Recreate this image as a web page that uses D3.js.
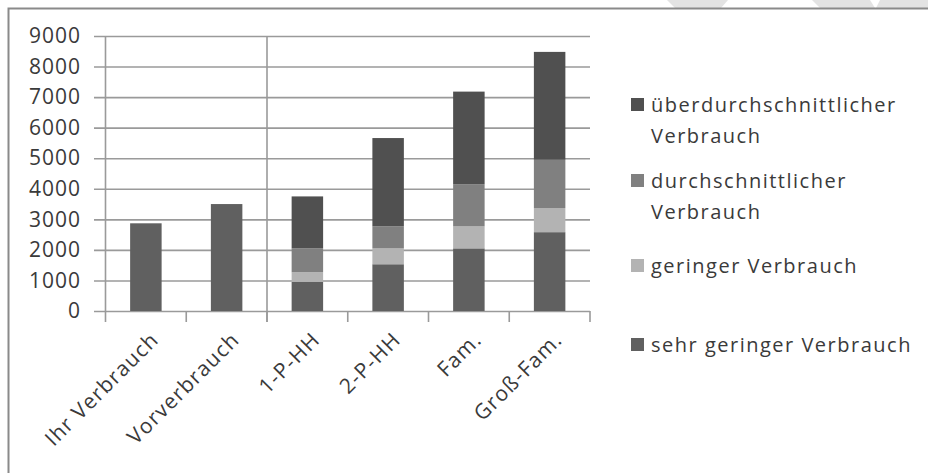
<!DOCTYPE html>
<html>
<head>
<meta charset="utf-8">
<script src="https://cdn.jsdelivr.net/npm/d3@7"></script>
<style>
    body { margin: 0; background: #fff; }
    text { font-family: "Open Sans", "DejaVu Sans", sans-serif; fill: #3a3a3a; }
</style>
</head>
<body>
<script>
// chart data
var categories = ["Ihr Verbrauch", "Vorverbrauch", "1-P-HH", "2-P-HH", "Fam.", "Groß-Fam."];
var sehrGering = [2870, 3500, 950, 1530, 2050, 2580];
var gering = [0, 0, 320, 520, 720, 790];
var durchschnittlich = [0, 0, 780, 720, 1380, 1580];
var ueberdurchschnittlich = [0, 0, 1700, 2890, 3030, 3530];
var yTicks = [0, 1000, 2000, 3000, 4000, 5000, 6000, 7000, 8000, 9000];

var seriesNames = ["sehrGering", "gering", "durchschnittlich", "ueber"];
var seriesLabels = {
    sehrGering: ["sehr geringer Verbrauch"],
    gering: ["geringer Verbrauch"],
    durchschnittlich: ["durchschnittlicher", "Verbrauch"],
    ueber: ["überdurchschnittlicher", "Verbrauch"]
};
var seriesColors = {
    sehrGering: "#606060",
    gering: "#b3b3b3",
    durchschnittlich: "#808080",
    ueber: "#505050"
};

var rows = categories.map(function(c, i) {
    return {
        cat: c,
        sehrGering: sehrGering[i],
        gering: gering[i],
        durchschnittlich: durchschnittlich[i],
        ueber: ueberdurchschnittlich[i]
    };
});

var width = 928, height = 473;
var gridLeft = 94, axisLeft = 105.5, plotRight = 590;
var plotTop = 36, plotBottom = 311;

var svg = d3.select("body").append("svg")
    .attr("width", width)
    .attr("height", height);

// watermark remnants at the top edge
var marks = [
    [[667, 0], [728, 0], [721, 8], [675, 8]],
    [[812, 0], [870, 0], [875, 8], [820, 8]],
    [[880, 0], [928, 0], [928, 8], [876, 8]]
];
svg.selectAll(".wm").data(marks).enter().append("polygon")
    .attr("points", function(d) { return d.map(function(p) { return p.join(","); }).join(" "); })
    .style("fill", "#e3e3e3");

// chart frame (only top and left edge visible)
svg.append("path")
    .attr("d", "M8.5," + height + "V8.5H" + width)
    .style("fill", "none")
    .style("stroke", "#8a8a8a")
    .style("stroke-width", 2);

var x = d3.scaleBand()
    .domain(categories)
    .range([axisLeft, plotRight])
    .paddingInner(0.61)
    .paddingOuter(0.305);

var y = d3.scaleLinear()
    .domain([0, 9000])
    .range([plotBottom, plotTop]);

// y axis with gridlines
var yAxis = d3.axisLeft(y)
    .tickValues(yTicks)
    .tickFormat(d3.format("d"))
    .tickSize(-(plotRight - gridLeft))
    .tickPadding(13);

var gy = svg.append("g")
    .attr("transform", "translate(" + gridLeft + ",0)")
    .call(yAxis);
gy.select(".domain").remove();
gy.selectAll(".tick line").style("stroke", "#9a9a9a").style("stroke-width", 1.6);
gy.selectAll(".tick text")
    .style("font-size", "21px")
    .style("letter-spacing", "1px")
    .style("fill", "#3a3a3a");

// vertical axis line + separator line
var step = x.step();
var x0 = x.range()[0];
svg.selectAll(".vline").data([0, 2]).enter().append("line")
    .attr("x1", function(d) { return x0 + d * step; })
    .attr("x2", function(d) { return x0 + d * step; })
    .attr("y1", plotTop)
    .attr("y2", plotBottom + 11)
    .style("stroke", "#9a9a9a")
    .style("stroke-width", 1.6);

// x category boundary ticks
svg.selectAll(".xtick").data(d3.range(1, categories.length + 1)).enter().append("line")
    .attr("x1", function(d) { return x0 + d * step; })
    .attr("x2", function(d) { return x0 + d * step; })
    .attr("y1", plotBottom)
    .attr("y2", plotBottom + 11)
    .style("stroke", "#9a9a9a")
    .style("stroke-width", 1.6);

// stacked bars
var stack = d3.stack().keys(seriesNames);
var layers = stack(rows);

svg.append("g").selectAll("g")
    .data(layers)
    .enter().append("g")
    .style("fill", function(d) { return seriesColors[d.key]; })
    .selectAll("rect")
    .data(function(d) { return d; })
    .enter().append("rect")
    .attr("x", function(d) { return x(d.data.cat); })
    .attr("y", function(d) { return y(d[1]); })
    .attr("width", x.bandwidth())
    .attr("height", function(d) { return y(d[0]) - y(d[1]); });

// rotated category labels
svg.append("g").selectAll("text")
    .data(categories)
    .enter().append("text")
    .attr("transform", function(d) {
        return "translate(" + (x(d) + x.bandwidth() / 2 + 14) + "," + (plotBottom + 30) + ") rotate(-45)";
    })
    .style("text-anchor", "end")
    .style("font-size", "21px")
    .style("letter-spacing", "1.2px")
    .text(function(d) { return d; });

// legend
var legendItems = [
    { key: "ueber", y: 98 },
    { key: "durchschnittlich", y: 174 },
    { key: "gering", y: 259 },
    { key: "sehrGering", y: 338 }
];

var legend = svg.append("g");
var li = legend.selectAll("g").data(legendItems).enter().append("g")
    .attr("transform", function(d) { return "translate(631," + d.y + ")"; });

li.append("rect")
    .attr("width", 13)
    .attr("height", 13)
    .style("fill", function(d) { return seriesColors[d.key]; });

li.append("text")
    .attr("x", 20)
    .attr("y", 14)
    .style("font-size", "20px")
    .style("letter-spacing", "1.5px")
    .selectAll("tspan")
    .data(function(d) { return seriesLabels[d.key]; })
    .enter().append("tspan")
    .attr("x", 20)
    .attr("dy", function(d, i) { return i == 0 ? 0 : 31; })
    .text(function(d) { return d; });
</script>
</body>
</html>
